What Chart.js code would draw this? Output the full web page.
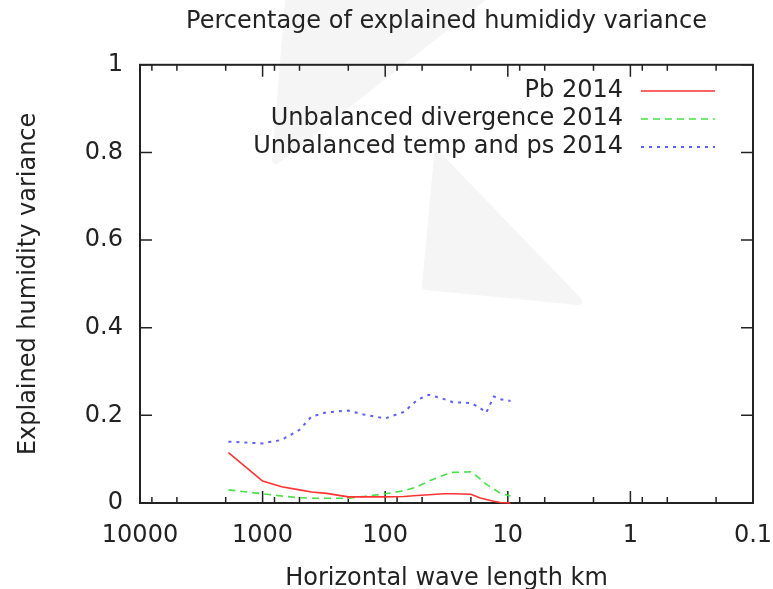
<!DOCTYPE html>
<html>
<head>
<meta charset="utf-8">
<script src="https://cdn.jsdelivr.net/npm/chart.js@4/dist/chart.umd.min.js"></script>
<style>
  html, body { margin: 0; padding: 0; background: #fff; }
  #chart { display: block; }
</style>
</head>
<body>
<canvas id="chart" width="773" height="589"></canvas>
<script>
const waveLength = [1900, 1000, 700, 500, 400, 300, 200, 150, 100, 70, 55, 44, 33, 28, 20, 17, 15, 13, 11.5, 9.5];

// Explained humidity variance per experiment
const pb2014 =        [0.115, 0.050, 0.037, 0.030, 0.025, 0.022, 0.014, 0.014, 0.014, 0.015, 0.017, 0.019, 0.021, 0.021, 0.020, 0.012, 0.008, 0.004, 0.001, 0.000];
const unbalDiv2014 =  [0.030, 0.021, 0.016, 0.012, 0.011, 0.011, 0.011, 0.015, 0.021, 0.028, 0.037, 0.050, 0.064, 0.070, 0.071, 0.056, 0.043, 0.032, 0.022, 0.016];
const unbalTps2014 =  [0.140, 0.136, 0.144, 0.167, 0.197, 0.207, 0.211, 0.202, 0.193, 0.208, 0.235, 0.247, 0.237, 0.230, 0.228, 0.218, 0.206, 0.243, 0.237, 0.233];

// Axis ticks
const xMajorTicks = [10000, 1000, 100, 10, 1, 0.1];
const xMinorFactors = [8, 5, 2];
const yTicks = [0, 0.2, 0.4, 0.6, 0.8, 1];

const FONT = 'DejaVu Sans';
const INK = '#222';

function toPoints(values) {
    return waveLength.map((w, i) => ({ x: w, y: values[i] }));
}

// minor tick values, 8/5/2 inside each decade
function minorTicks() {
    const out = [];
    for (let i = 0; i < xMajorTicks.length - 1; i++) {
        xMinorFactors.forEach(f => out.push(xMajorTicks[i + 1] * f));
    }
    return out;
}

// faint cursor watermark behind the plot
const watermark = {
    id: 'watermark',
    beforeDraw(chart) {
        const ctx = chart.ctx;
        ctx.save();
        ctx.fillStyle = '#f5f5f5';
        ctx.lineJoin = 'round';
        ctx.strokeStyle = '#f5f5f5';
        ctx.lineWidth = 8;
        ctx.beginPath();
        ctx.moveTo(290, -10);
        ctx.lineTo(492, -10);
        ctx.lineTo(276, 160);
        ctx.closePath();
        ctx.fill();
        ctx.stroke();
        ctx.beginPath();
        ctx.moveTo(438, 156);
        ctx.lineTo(426, 286);
        ctx.lineTo(578, 301);
        ctx.closePath();
        ctx.fill();
        ctx.stroke();
        ctx.restore();
    }
};

// gnuplot style box with inward ticks on all four sides
const frame = {
    id: 'frame',
    beforeDatasetsDraw(chart) {
        const { ctx, chartArea: a, scales } = chart;
        const xs = scales.x, ys = scales.y;
        ctx.save();
        ctx.strokeStyle = INK;
        ctx.lineWidth = 1.5;
        ctx.beginPath();
        const tick = (x1, y1, x2, y2) => { ctx.moveTo(x1, y1); ctx.lineTo(x2, y2); };
        xMajorTicks.forEach(v => {
            const px = xs.getPixelForValue(v);
            tick(px, a.bottom, px, a.bottom - 12);
            tick(px, a.top, px, a.top + 12);
        });
        minorTicks().forEach(v => {
            const px = xs.getPixelForValue(v);
            tick(px, a.bottom, px, a.bottom - 6);
            tick(px, a.top, px, a.top + 6);
        });
        yTicks.forEach(v => {
            const py = ys.getPixelForValue(v);
            tick(a.left, py, a.left + 12, py);
            tick(a.right, py, a.right - 12, py);
        });
        ctx.stroke();
        ctx.lineWidth = 2;
        ctx.strokeRect(a.left, a.top, a.right - a.left, a.bottom - a.top);
        ctx.restore();
    }
};

// key in the top right corner, text right aligned then sample line
const key = {
    id: 'key',
    afterDraw(chart) {
        const ctx = chart.ctx;
        ctx.save();
        ctx.font = '24px "' + FONT + '"';
        ctx.textAlign = 'right';
        ctx.textBaseline = 'middle';
        chart.data.datasets.forEach((ds, i) => {
            const y = 91 + i * 28;
            ctx.fillStyle = INK;
            ctx.fillText(ds.label, 623, y);
            ctx.strokeStyle = ds.borderColor;
            ctx.lineWidth = ds.borderWidth;
            ctx.setLineDash(ds.borderDash || []);
            ctx.beginPath();
            ctx.moveTo(641, y);
            ctx.lineTo(715, y);
            ctx.stroke();
        });
        ctx.restore();
    }
};

const datasets = [
    {
        label: 'Pb 2014',
        data: toPoints(pb2014),
        borderColor: 'rgb(255, 50, 50)',
        borderWidth: 1.6,
        borderDash: []
    },
    {
        label: 'Unbalanced divergence 2014',
        data: toPoints(unbalDiv2014),
        borderColor: 'rgb(70, 225, 70)',
        borderWidth: 1.6,
        borderDash: [7, 5]
    },
    {
        label: 'Unbalanced temp and ps 2014',
        data: toPoints(unbalTps2014),
        borderColor: 'rgb(95, 95, 255)',
        borderWidth: 2,
        borderDash: [3, 5]
    }
];

new Chart(document.getElementById('chart'), {
    type: 'line',
    data: { datasets },
    plugins: [watermark, frame, key],
    options: {
        responsive: false,
        animation: false,
        layout: { padding: { left: 0, right: 20, top: 0, bottom: 0 } },
        elements: {
            point: { radius: 0 },
            line: { tension: 0, fill: false }
        },
        datasets: { line: { clip: 4 } },
        plugins: {
            legend: { display: false },
            tooltip: { enabled: false },
            title: {
                display: true,
                fullSize: false,
                text: 'Percentage of explained humididy variance',
                color: INK,
                font: { family: FONT, size: 24, weight: 'normal', lineHeight: 1.2 },
                padding: { top: 7, bottom: 29 }
            }
        },
        scales: {
            x: {
                type: 'logarithmic',
                reverse: true,
                min: 0.1,
                max: 10000,
                grid: { display: false, drawTicks: false },
                border: { display: false },
                afterBuildTicks: scale => {
                    scale.ticks = xMajorTicks.map(v => ({ value: v }));
                },
                afterFit: scale => {
                    scale.height = 86;
                    scale.paddingLeft = 0;
                    scale.paddingRight = 0;
                },
                ticks: {
                    autoSkip: false,
                    maxRotation: 0,
                    padding: 18,
                    color: INK,
                    font: { family: FONT, size: 24 },
                    callback: v => String(v)
                },
                title: {
                    display: true,
                    text: 'Horizontal wave length km',
                    color: INK,
                    font: { family: FONT, size: 24, lineHeight: 1 },
                    padding: { top: 0, bottom: -2 }
                }
            },
            y: {
                min: 0,
                max: 1,
                grid: { display: false, drawTicks: false },
                border: { display: false },
                afterBuildTicks: scale => {
                    scale.ticks = yTicks.map(v => ({ value: v }));
                },
                afterFit: scale => { scale.width = 140; },
                ticks: {
                    padding: 17,
                    color: INK,
                    font: { family: FONT, size: 24 },
                    callback: v => String(+v.toFixed(1))
                },
                title: {
                    display: true,
                    text: 'Explained humidity variance',
                    color: INK,
                    font: { family: FONT, size: 24, lineHeight: 1 },
                    padding: { top: 17, bottom: 0 }
                }
            }
        }
    }
});
</script>
</body>
</html>
